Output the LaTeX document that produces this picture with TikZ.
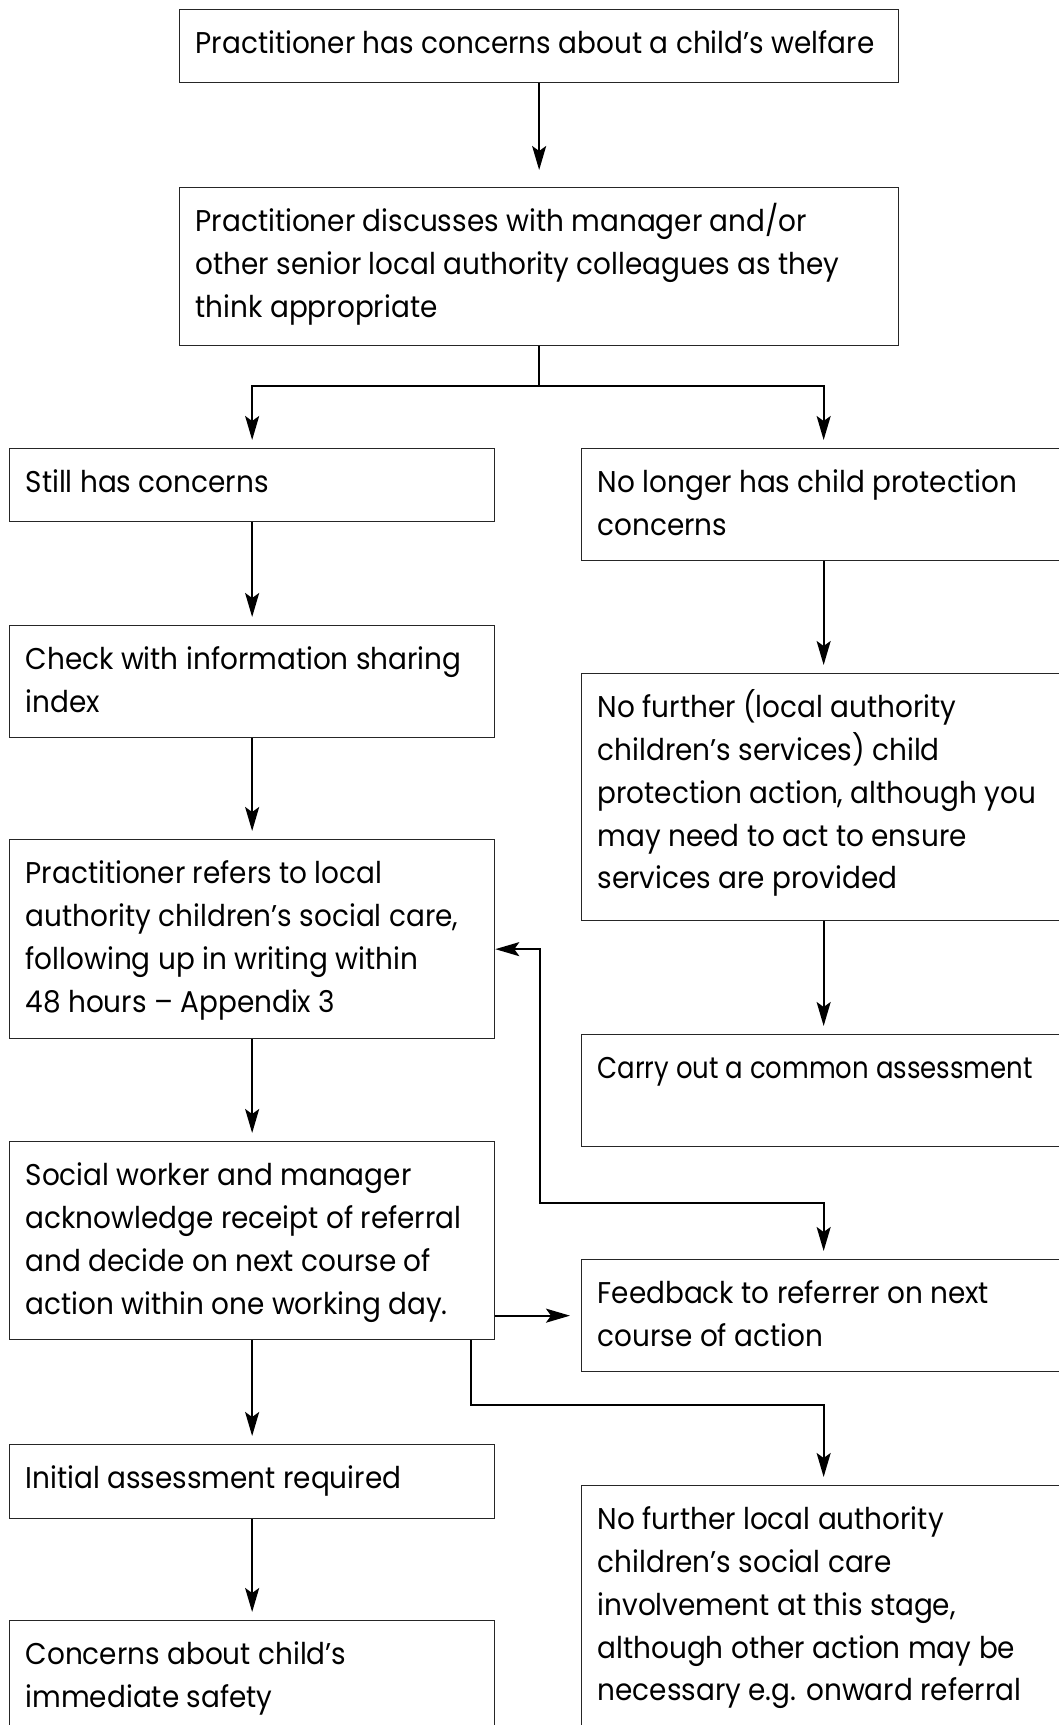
\documentclass[tikz,border=0pt]{standalone}
\usepackage{fontspec}
\usepackage{graphicx}
\setmainfont[FakeStretch=0.93]{Poppins}
\usetikzlibrary{arrows.meta}

\newcommand{\boxtext}[3]{\begin{minipage}[t][#2][t]{#1}\raggedright\rule{0pt}{22pt}#3\end{minipage}}

\begin{document}
\begin{tikzpicture}[x=0.5pt,y=-0.5pt,
	flowbox/.style={draw=black!85, line width=0.65pt, anchor=north west, inner xsep=8pt, inner ysep=0pt, font=\fontsize{15}{21.4}\selectfont},
	flowline/.style={line width=1pt, shorten >=4pt, -{Stealth[length=12pt,width=7pt,inset=2.5pt]}},
	]
	\def\wt{343.5pt} % text width, top boxes
	\def\wl{226.5pt} % text width, left column
	\def\wr{226pt}   % text width, right column
	
	\clip (0,0) rectangle (1059,1725);
	
	\node[flowbox] (b1) at (179,9) {\boxtext{\wt}{36.5pt}{Practitioner has concerns about a child’s welfare}};
	\node[flowbox] (b2) at (179,187) {\boxtext{\wt}{79pt}{Practitioner discusses with manager and/or\\ other senior local authority colleagues as they\\ think appropriate}};
	
	\node[flowbox] (b3) at (9,448) {\boxtext{\wl}{36.5pt}{Still has concerns}};
	\node[flowbox] (b5) at (9,625) {\boxtext{\wl}{56pt}{Check with information sharing\\ index}};
	\node[flowbox] (b6) at (9,839) {\boxtext{\wl}{99.5pt}{Practitioner refers to local\\ authority children’s social care,\\ following up in writing within\\ 48 hours – Appendix 3}};
	\node[flowbox] (b7) at (9,1141) {\boxtext{\wl}{99pt}{Social worker and manager\\ acknowledge receipt of referral\\ and decide on next course of\\ action within one working day.}};
	\node[flowbox] (b8) at (9,1444) {\boxtext{\wl}{37pt}{Initial assessment required}};
	\node[flowbox] (b9) at (9,1620) {\boxtext{\wl}{65pt}{Concerns about child’s\\ immediate safety}};
	
	\node[flowbox] (b4) at (581,448) {\boxtext{\wr}{56pt}{No longer has child protection\\ concerns}};
	\node[flowbox] (b10) at (581,673) {\boxtext{\wr}{123.5pt}{No further (local authority\\ children’s services) child\\ protection action, although you\\ may need to act to ensure\\ services are provided}};
	\node[flowbox] (b11) at (581,1034) {\boxtext{\wr}{56pt}{\scalebox{0.93}[1]{Carry out a common assessment}}};
	\node[flowbox] (b12) at (581,1259) {\boxtext{\wr}{56pt}{Feedback to referrer on next\\ course of action}};
	\node[flowbox] (b13) at (581,1485) {\boxtext{\wr}{130pt}{No further local authority\\ children’s social care\\ involvement at this stage,\\ although other action may be\\ necessary e.g. onward referral}};
	
	\coordinate (fb) at (540,1203);
	\coordinate (nb) at (471,1405);
	
	\draw[flowline, shorten >=8.5pt] (b1) -- (b2);
	\draw[line width=1pt] (b2.south) -- ++(0,40) coordinate (split);
	\draw[flowline] (split) -| (b3.north);
	\draw[flowline] (split) -| (b4.north);
	\foreach \a/\b in {b3/b5,b5/b6,b6/b7,b7/b8,b8/b9,b4/b10,b10/b11}
		\draw[flowline] (\a) -- (\b);
	\draw[flowline, shorten >=5.5pt] (b7.east |- b12.west) -- (b12.west);
	\draw[flowline, {Stealth[length=12pt,width=7pt,inset=2.5pt]}-{Stealth[length=12pt,width=7pt,inset=2.5pt]}] ([yshift=-5pt]b6.east) -| (fb) -| (b12.north);
	\draw[flowline] (nb |- b7.south) -- (nb) -| (b13.north);
\end{tikzpicture}
\end{document}
